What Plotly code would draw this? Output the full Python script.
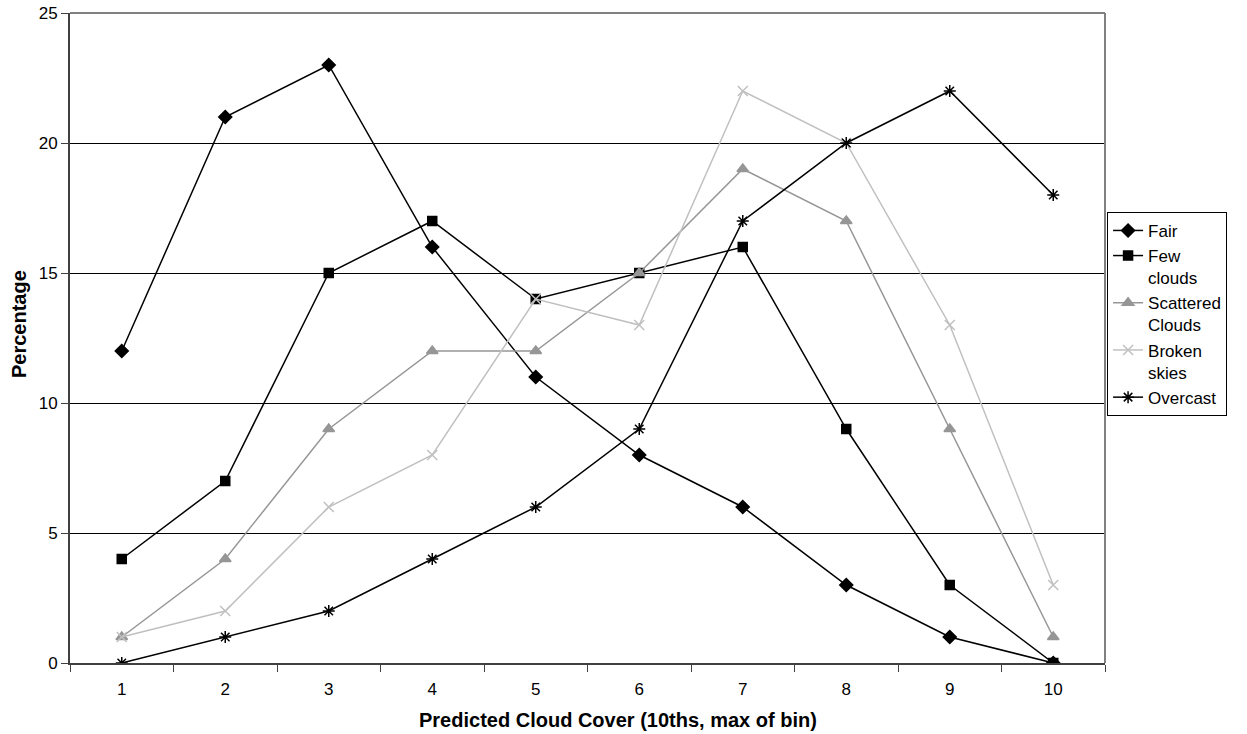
import plotly.graph_objects as go

categories = [1, 2, 3, 4, 5, 6, 7, 8, 9, 10]
fair = [12, 21, 23, 16, 11, 8, 6, 3, 1, 0]
few_clouds = [4, 7, 15, 17, 14, 15, 16, 9, 3, 0]
scattered = [1, 4, 9, 12, 12, 15, 19, 17, 9, 1]
broken = [1, 2, 6, 8, 14, 13, 22, 20, 13, 3]
overcast = [0, 1, 2, 4, 6, 9, 17, 20, 22, 18]

series = [
    ("Fair", fair, "#000000", "diamond", 10),
    ("Few<br>clouds", few_clouds, "#000000", "square", 9),
    ("Scattered<br>Clouds", scattered, "#969696", "triangle-up", 10),
    ("Broken<br>skies", broken, "#C0C0C0", "x-thin-open", 10),
    ("Overcast", overcast, "#000000", "asterisk-open", 10),
]

fig = go.Figure()
for name, vals, color, sym, size in series:
    fig.add_trace(go.Scatter(
        x=categories, y=vals, name=name, mode="lines+markers",
        line=dict(color=color, width=1.5),
        marker=dict(symbol=sym, size=size, color=color,
                    line=dict(color=color, width=1.5)),
    ))

fig.update_layout(
    width=1247, height=734,
    margin=dict(l=70, r=142, t=13, b=71),
    plot_bgcolor="white", paper_bgcolor="white",
    font=dict(family="Liberation Sans, Arial, sans-serif", size=17, color="black"),
    showlegend=True,
    legend=dict(x=1.002, y=0.694, xanchor="left", yanchor="top",
                bordercolor="black", borderwidth=1, bgcolor="white",
                font=dict(size=17), tracegroupgap=0, itemwidth=30, valign="top"),
    xaxis=dict(
        range=[0.5, 10.5], tickvals=categories, ticktext=[str(c) for c in categories],
        ticks="", showgrid=False, zeroline=False, automargin=False,
        showline=True, linecolor="#404040", linewidth=2,
        minor=dict(tickvals=[i + 0.5 for i in range(0, 11)], ticks="outside",
                   ticklen=7, tickcolor="#404040", tickwidth=1, showgrid=False),
        tickfont=dict(size=17), ticklabelstandoff=10,
    ),
    yaxis=dict(
        range=[0, 25], tickvals=[0, 5, 10, 15, 20, 25], ticks="outside",
        ticklen=7, tickcolor="#404040", showgrid=True, gridcolor="black", gridwidth=1,
        zeroline=False, showline=True, linecolor="#404040", linewidth=2, automargin=False,
        tickfont=dict(size=17), ticklabeloverflow="allow",
    ),
    shapes=[
        dict(type="line", xref="paper", yref="paper", x0=0, x1=1, y0=1, y1=1,
             line=dict(color="#808080", width=2)),
        dict(type="line", xref="paper", yref="paper", x0=1, x1=1, y0=0, y1=1,
             line=dict(color="#808080", width=2)),
    ],
    annotations=[
        dict(text="<b>Predicted Cloud Cover (10ths, max of bin)</b>", xref="paper", yref="paper",
             x=0.5295, y=-0.0877, xanchor="center", yanchor="middle", showarrow=False,
             font=dict(size=20)),
        dict(text="<b>Percentage</b>", xref="paper", yref="paper", textangle=-90,
             x=-0.0493, y=0.5215, xanchor="center", yanchor="middle", showarrow=False,
             font=dict(size=20)),
    ],
)

fig.write_html("out.html", config={"displayModeBar": False},
               post_script="document.body.style.margin='0';")
